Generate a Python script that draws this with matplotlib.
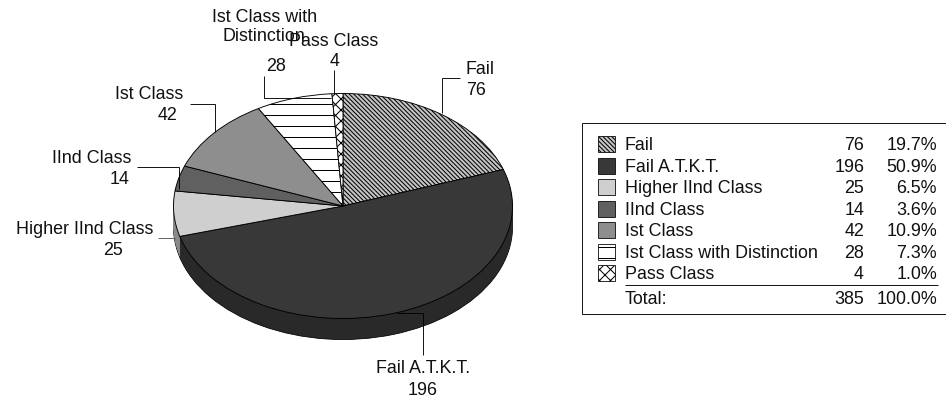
import matplotlib
matplotlib.use("Agg")
import matplotlib.pyplot as plt
from matplotlib.patches import Rectangle

plt.rcParams['font.family'] = ['Liberation Sans', 'DejaVu Sans']
plt.rcParams['hatch.linewidth'] = 1.1

categories = ["Fail", "Fail A.T.K.T.", "Higher IInd Class", "IInd Class", "Ist Class",
              "Ist Class with Distinction", "Pass Class"]
values = [76, 196, 25, 14, 42, 28, 4]
percents = ["19.7%", "50.9%", "6.5%", "3.6%", "10.9%", "7.3%", "1.0%"]
total_label = "Total:"
total_value = "385"
total_percent = "100.0%"
face_colors = ["#c4c4c4", "#383838", "#cfcfcf", "#606060", "#8e8e8e", "#ffffff", "#ffffff"]
side_colors = ["#777777", "#292929", "#8a8a8a", "#444444", "#666666", "#aaaaaa", "#aaaaaa"]
hatches = ["\\\\\\\\\\", None, None, None, None, "-", "xx"]

DPI = 66
W, H = 946, 400
CX, CY, RX, RY, DEPTH = 343, 206, 169.5, 112.5, 21
FS = 17.9 * 72 / DPI
LW = 72 / DPI
TXT = "#111111"
DY = 1.5

fig = plt.figure(figsize=(W / DPI, H / DPI), dpi=DPI, facecolor="white")
ax = fig.add_axes([0, 0, 1, 1])

# extruded side: stacked copies of the pie, shifted downward
steps = 22
for i in range(steps, 0, -1):
    off = DEPTH / RY * i / steps
    edge = "black" if i == steps else "none"
    ax.pie(values, startangle=90, counterclock=False, colors=side_colors, center=(0, -off),
           wedgeprops=dict(edgecolor=edge, linewidth=LW * 0.8), frame=False)
# top face
wedges, _ = ax.pie(values, startangle=90, counterclock=False, colors=face_colors,
                   wedgeprops=dict(edgecolor="black", linewidth=LW * 0.9), frame=False)
for w, h in zip(wedges, hatches):
    if h:
        w.set_hatch(h)
ax.set_aspect("auto")
ax.set_xlim(-CX / RX, (W - CX) / RX)
ax.set_ylim((CY - H) / RY, CY / RY)
ax.axis("off")

# overlay in pixel coordinates: callouts and legend table
ov = fig.add_axes([0, 0, 1, 1], facecolor="none")
ov.set_xlim(0, W)
ov.set_ylim(H, 0)
ov.axis("off")

def lab(x, y, s, ha="center"):
    ov.text(x, y + DY, s, ha=ha, va="center", fontsize=FS, color=TXT)

def line(xs, ys, color="black", lw=LW * 0.9):
    ov.plot(xs, ys, color=color, lw=lw, solid_joinstyle="miter", solid_capstyle="butt")

lab(480, 68, "Fail"); lab(476, 89, str(values[0]))
line([460, 442, 442], [78, 78, 113])
lab(423, 367, "Fail A.T.K.T."); lab(423, 389, str(values[1]))
line([397, 423, 423], [313, 313, 355])
lab(85, 228, "Higher IInd Class"); lab(113, 249, str(values[2]))
line([158, 175], [238, 238], color="#555555")
lab(92, 157, "IInd Class"); lab(120, 178, str(values[3]))
line([137, 179, 179], [167, 167, 189])
lab(149, 93, "Ist Class"); lab(168, 114, str(values[4]))
line([190, 215, 215], [104, 104, 132])
lab(265, 16, "Ist Class with"); lab(264, 35, "Distinction"); lab(276, 65, str(values[5]))
line([264, 264, 331], [76, 98, 98])
lab(334, 40, "Pass Class"); lab(335, 60, str(values[6]))
line([334, 334], [70, 94])

# legend table
ov.add_patch(Rectangle((582, 123), 370, 191, facecolor="white", edgecolor="black", lw=LW * 0.9))
row_ys = [144, 166, 187, 209, 230, 252, 273]
for y, name, v, p, fc, hz in zip(row_ys, categories, values, percents, face_colors, hatches):
    ov.add_patch(Rectangle((598, y - 8), 17, 16, facecolor=fc, edgecolor="black",
                           lw=LW * 0.8, hatch=hz))
    lab(625, y, name, ha="left")
    lab(864, y, str(v), ha="right")
    lab(937, y, p, ha="right")
line([625, 938], [285, 285])
lab(625, 298, total_label, ha="left")
lab(864, 298, total_value, ha="right")
lab(937, 298, total_percent, ha="right")

fig.savefig("out.png", dpi=DPI, facecolor="white")
